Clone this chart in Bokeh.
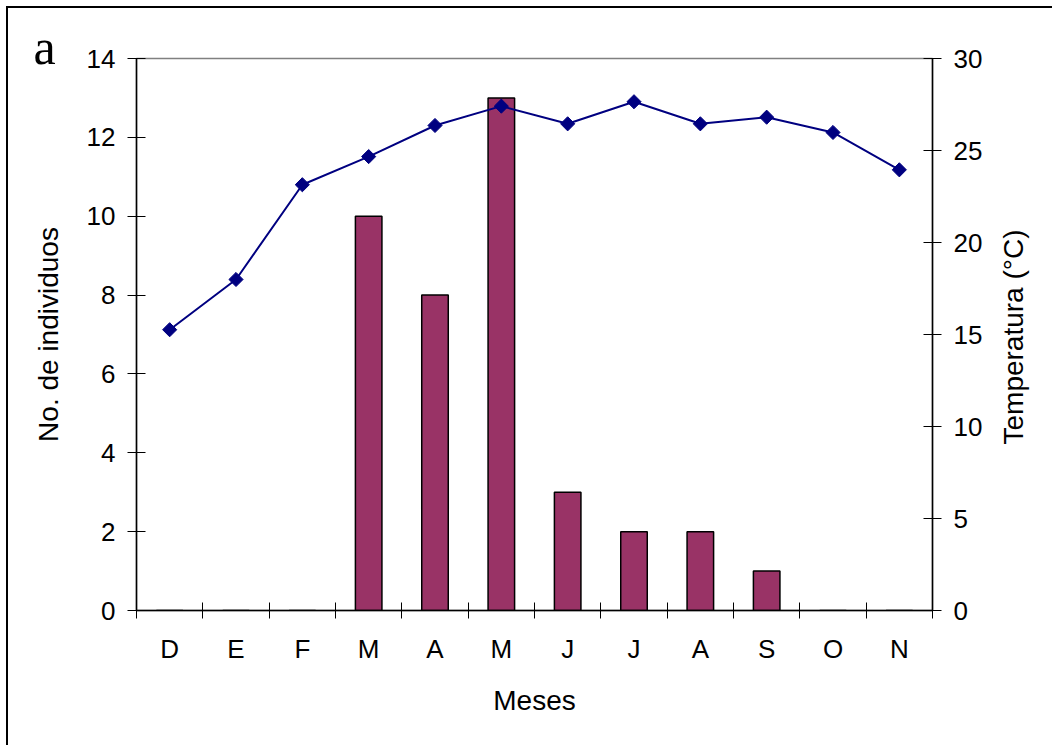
import math
from bokeh.plotting import figure
from bokeh.models import Range1d, LinearAxis, FixedTicker, Title
from bokeh.embed import file_html
from bokeh.resources import INLINE

months = ["D", "E", "F", "M", "A", "M", "J", "J", "A", "S", "O", "N"]
individuos = [0, 0, 0, 10, 8, 13, 3, 2, 2, 1, 0, 0]
temperatura = [15.26, 17.99, 23.14, 24.67, 26.36, 27.41, 26.45, 27.65, 26.45, 26.81, 25.98, 23.95]
left_ticks = [0, 2, 4, 6, 8, 10, 12, 14]
right_ticks = [0, 5, 10, 15, 20, 25, 30]

FONT = "Liberation Sans"
n = len(months)
xs = [i + 0.5 for i in range(n)]

p = figure(width=1046, height=739, output_backend="svg", toolbar_location=None,
           x_range=Range1d(0, n), y_range=Range1d(0, 14),
           min_border_left=128, min_border_right=122, min_border_top=50, min_border_bottom=137)
p.styles = {"border-left": "2px solid black", "border-top": "2px solid black",
            "margin-left": "6px", "margin-top": "6px"}
p.xgrid.visible = False
p.ygrid.visible = False
p.outline_line_color = "#808080"
p.outline_line_width = 1.5
p.background_fill_color = "white"
p.border_fill_color = "white"

p.extra_y_ranges = {"temp": Range1d(0, 30)}

p.vbar(x=xs, top=individuos, width=0.4, fill_color="#993366", line_color="black", line_width=1.5)
p.line(x=xs, y=temperatura, y_range_name="temp", line_color="#000080", line_width=2)
p.scatter(x=xs, y=temperatura, y_range_name="temp", marker="square", angle=0.785398,
          size=10, fill_color="#000080", line_color="#000080")

xa = p.xaxis[0]
xa.ticker = FixedTicker(ticks=xs, minor_ticks=list(range(n + 1)))
xa.major_label_overrides = {x: m for x, m in zip(xs, months)}
xa.major_tick_in = 0
xa.major_tick_out = 0
xa.minor_tick_in = 8
xa.minor_tick_out = 8
xa.minor_tick_line_color = "black"
xa.axis_line_color = "black"
xa.axis_line_width = 1.5
xa.major_label_text_font = FONT
xa.major_label_text_font_size = "26px"
xa.major_label_text_color = "black"
xa.major_label_standoff = 15
xa.axis_label = "Meses"
xa.axis_label_text_font = FONT
xa.axis_label_text_font_size = "28px"
xa.axis_label_text_font_style = "normal"
xa.axis_label_text_color = "black"
xa.axis_label_standoff = 18

ya = p.yaxis[0]
ya.ticker = FixedTicker(ticks=left_ticks)
ya.minor_tick_line_color = None
ya.major_tick_in = 9
ya.major_tick_out = 9
ya.major_tick_line_color = "black"
ya.axis_line_color = "black"
ya.axis_line_width = 1.5
ya.major_label_text_font = FONT
ya.major_label_text_font_size = "26px"
ya.major_label_text_color = "black"
ya.major_label_standoff = 12
ya.axis_label = "No. de individuos"
ya.axis_label_text_font = FONT
ya.axis_label_text_font_size = "28px"
ya.axis_label_text_font_style = "normal"
ya.axis_label_text_color = "black"
ya.axis_label_standoff = 20

ra = LinearAxis(y_range_name="temp", ticker=FixedTicker(ticks=right_ticks))
ra.minor_tick_line_color = None
ra.major_tick_in = 9
ra.major_tick_out = 9
ra.major_tick_line_color = "black"
ra.axis_line_color = "black"
ra.axis_line_width = 1.5
ra.major_label_text_font = FONT
ra.major_label_text_font_size = "26px"
ra.major_label_text_color = "black"
ra.major_label_standoff = 12
p.add_layout(ra, "right")

# right-hand title, drawn as the single label of a bare outer axis so it reads upwards
right_title = "Temperatura (°C)"
title_anchor = 15 - 110 * 30 / 552  # text starts below the middle so it is centred
ta = LinearAxis(y_range_name="temp", ticker=FixedTicker(ticks=[title_anchor]))
ta.major_label_overrides = {title_anchor: right_title}
ta.major_label_orientation = math.pi / 2
ta.axis_line_color = None
ta.major_tick_line_color = None
ta.minor_tick_line_color = None
ta.major_tick_in = 0
ta.major_tick_out = 0
ta.major_label_text_font = FONT
ta.major_label_text_font_size = "28px"
ta.major_label_text_color = "black"
ta.major_label_standoff = 28
p.add_layout(ta, "right")

# panel letter
p.add_layout(Title(text="a", align="left", offset=-103, standoff=-33,
                   text_font="Liberation Serif", text_font_size="50px",
                   text_font_style="normal", text_color="black"), "above")

open("out.html", "w").write(file_html(p, INLINE))
